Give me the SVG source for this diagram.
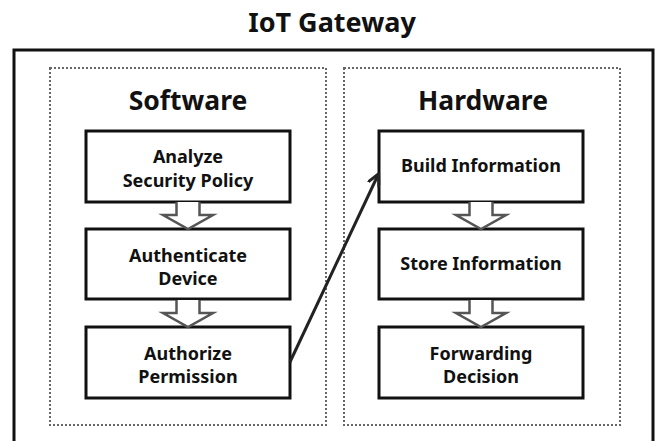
<svg xmlns="http://www.w3.org/2000/svg" width="664" height="441" viewBox="0 0 664 441">
<style>
text{font-family:"Noto Sans","Open Sans",sans-serif;font-weight:bold;fill:#111;text-anchor:middle}
.title{font-size:27px}
.head{font-size:26.5px}
.lbl{font-size:18px}
.box{fill:#fff;stroke:#111;stroke-width:3}
.grp{fill:none;stroke:#666;stroke-width:2;stroke-dasharray:2 2}
.hollow{fill:#fff;stroke:#555;stroke-width:2.5;stroke-linejoin:miter}
.conn{fill:none;stroke:#222;stroke-width:3}
</style>
<defs>
<marker id="ah" viewBox="0 0 10 10" refX="8" refY="5" markerWidth="4.5" markerHeight="4.5" orient="auto" markerUnits="strokeWidth">
<path d="M0,0.5 L9,5 L0,9.5" fill="none" stroke="#222" stroke-width="2.2"/>
</marker>
<path id="harrow" d="M-11.5,0 V13 H-25 L0,27 L25,13 H11.5 V0"/>
</defs>
<text class="title" x="332" y="32">IoT Gateway</text>
<rect x="14" y="50" width="639" height="400" fill="none" stroke="#111" stroke-width="3"/>
<g id="software">
<rect class="grp" x="50" y="68" width="276" height="357"/>
<text class="head" x="188" y="110">Software</text>
</g>
<g id="hardware">
<rect class="grp" x="344" y="68" width="276" height="357"/>
<text class="head" x="483" y="110">Hardware</text>
</g>
<g id="n1"><rect class="box" x="86" y="131" width="204" height="71"/><text class="lbl" x="188" y="163">Analyze</text><text class="lbl" x="188" y="187">Security Policy</text></g>
<g id="n2"><rect class="box" x="86" y="229" width="204" height="70"/><text class="lbl" x="188" y="262">Authenticate</text><text class="lbl" x="188" y="285">Device</text></g>
<g id="n3"><rect class="box" x="86" y="327" width="204" height="71"/><text class="lbl" x="188" y="360">Authorize</text><text class="lbl" x="188" y="383">Permission</text></g>
<g id="n4"><rect class="box" x="379" y="131" width="204" height="71"/><text class="lbl" x="481" y="172">Build Information</text></g>
<g id="n5"><rect class="box" x="379" y="229" width="204" height="70"/><text class="lbl" x="481" y="270">Store Information</text></g>
<g id="n6"><rect class="box" x="379" y="327" width="204" height="71"/><text class="lbl" x="481" y="360">Forwarding</text><text class="lbl" x="481" y="383">Decision</text></g>
<g id="connectors">
<use href="#harrow" class="hollow" x="188" y="202"/>
<use href="#harrow" class="hollow" x="188" y="300"/>
<use href="#harrow" class="hollow" x="481" y="202"/>
<use href="#harrow" class="hollow" x="481" y="300"/>
<line class="conn" x1="290" y1="362" x2="378" y2="175" marker-end="url(#ah)"/>
</g>
</svg>
